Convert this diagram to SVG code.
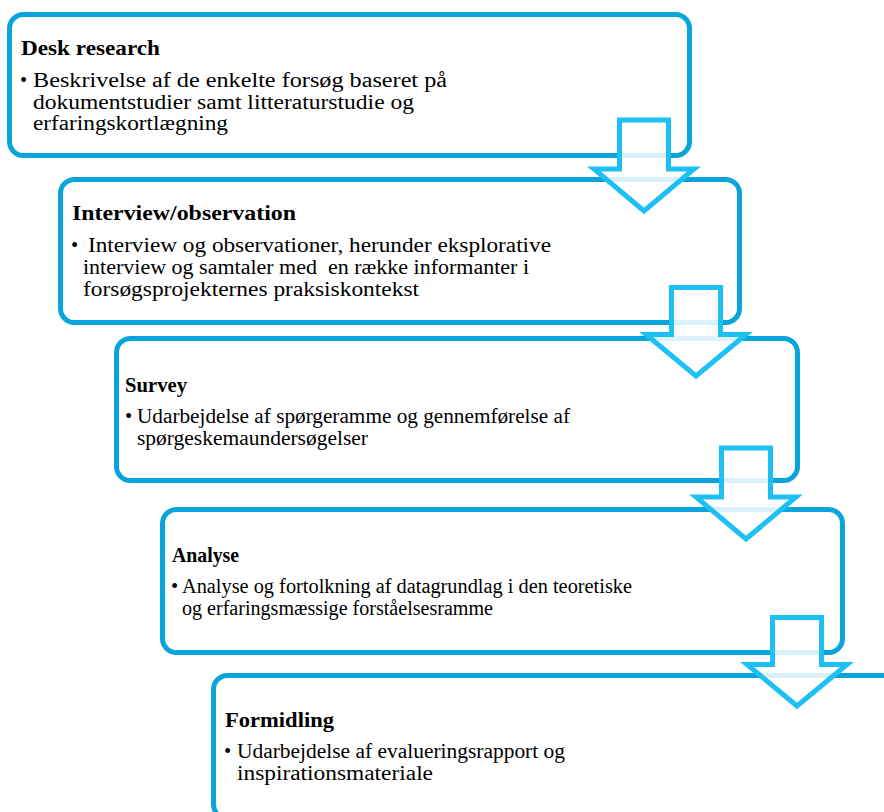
<svg xmlns="http://www.w3.org/2000/svg" width="884" height="812" viewBox="0 0 884 812">
<style>
.box{fill:#ffffff;stroke:#0AA4DC;stroke-width:5}
.arr{fill:#ffffff;fill-opacity:0.85;stroke:#1CC0F2;stroke-width:5;stroke-linejoin:miter;stroke-miterlimit:10}
text{font-family:"Liberation Serif","Times New Roman",serif;font-size:20.5px;fill:#000000}
.t{font-weight:bold;font-size:21px}
.p{white-space:pre}
</style>
<rect width="884" height="812" fill="#ffffff"/>
<g id="node-desk-research">
<rect class="box" x="9.5" y="14.5" width="680" height="141" rx="14"/>
<text class="t" x="21" y="55" textLength="139" lengthAdjust="spacingAndGlyphs">Desk research</text>
<text x="20" y="87">•</text>
<text x="33" y="87" textLength="414" lengthAdjust="spacingAndGlyphs">Beskrivelse af de enkelte forsøg baseret på</text>
<text x="33" y="108.5" textLength="381" lengthAdjust="spacingAndGlyphs">dokumentstudier samt litteraturstudie og</text>
<text x="33" y="130" textLength="195" lengthAdjust="spacingAndGlyphs">erfaringskortlægning</text>
</g>
<g id="node-interview">
<rect class="box" x="60.5" y="179.5" width="679" height="143" rx="14"/>
<text class="t" x="72" y="220" textLength="224" lengthAdjust="spacingAndGlyphs">Interview/observation</text>
<text x="71" y="252">•</text>
<text x="88" y="251.5" textLength="463" lengthAdjust="spacingAndGlyphs">Interview og observationer, herunder eksplorative</text>
<text class="p" x="83" y="273.5" textLength="446" lengthAdjust="spacingAndGlyphs">interview og samtaler med  en række informanter i</text>
<text x="83" y="295.5" textLength="336" lengthAdjust="spacingAndGlyphs">forsøgsprojekternes praksiskontekst</text>
</g>
<g id="node-survey">
<rect class="box" x="116.5" y="338.5" width="681" height="142" rx="14"/>
<text class="t" x="125" y="392" textLength="62" lengthAdjust="spacingAndGlyphs">Survey</text>
<text x="125" y="423">•</text>
<text x="137" y="423" textLength="433" lengthAdjust="spacingAndGlyphs">Udarbejdelse af spørgeramme og gennemførelse af</text>
<text x="137" y="445" textLength="231" lengthAdjust="spacingAndGlyphs">spørgeskemaundersøgelser</text>
</g>
<g id="node-analyse">
<rect class="box" x="162.5" y="509.5" width="680" height="143" rx="14"/>
<text class="t" x="172" y="562" textLength="67" lengthAdjust="spacingAndGlyphs">Analyse</text>
<text x="171" y="593">•</text>
<text x="182" y="593" textLength="450" lengthAdjust="spacingAndGlyphs">Analyse og fortolkning af datagrundlag i den teoretiske</text>
<text x="182" y="615" textLength="311" lengthAdjust="spacingAndGlyphs">og erfaringsmæssige forståelsesramme</text>
</g>
<g id="node-formidling">
<rect class="box" x="213.5" y="675.5" width="690" height="143" rx="14"/>
<text class="t" x="225" y="727" textLength="109" lengthAdjust="spacingAndGlyphs">Formidling</text>
<text x="224" y="758">•</text>
<text x="237" y="758" textLength="328" lengthAdjust="spacingAndGlyphs">Udarbejdelse af evalueringsrapport og</text>
<text x="237" y="780" textLength="196" lengthAdjust="spacingAndGlyphs">inspirationsmateriale</text>
</g>
<g id="connectors">
<polygon class="arr" points="619.5,120 668.5,120 668.5,169 694,169 644,211 594,169 619.5,169"/>
<polygon class="arr" points="671.5,287.5 720.5,287.5 720.5,334.5 746,334.5 696,376 646,334.5 671.5,334.5"/>
<polygon class="arr" points="721.5,448 770.5,448 770.5,497 796,497 746,539 696,497 721.5,497"/>
<polygon class="arr" points="772.5,617.5 821.5,617.5 821.5,664.5 847,664.5 797,706 747,664.5 772.5,664.5"/>
</g>
</svg>
